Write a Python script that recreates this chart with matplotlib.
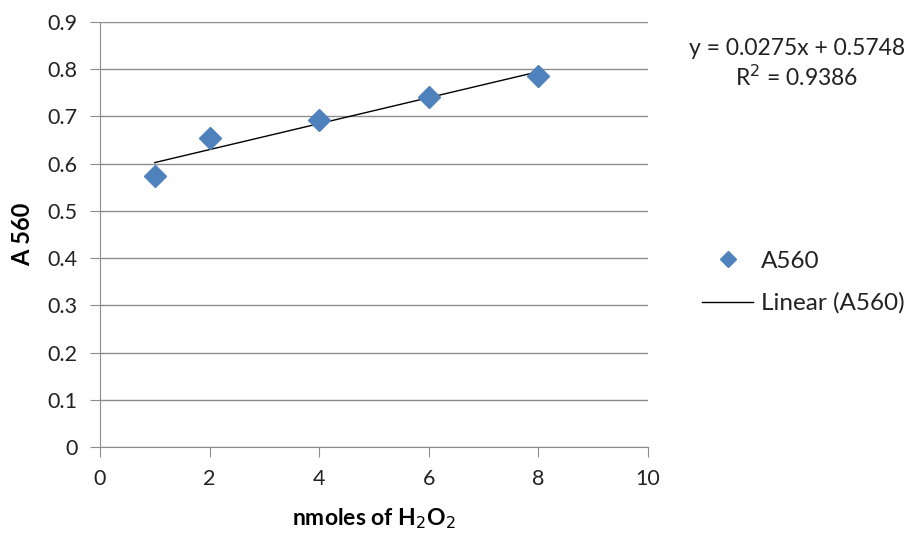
import matplotlib
matplotlib.use("Agg")
import matplotlib.pyplot as plt

# data
nmoles = [1, 2, 4, 6, 8]
a560 = [0.574, 0.654, 0.692, 0.741, 0.785]
slope, intercept, r2 = 0.0275, 0.5748, 0.9386
x_ticks = [0, 2, 4, 6, 8, 10]
y_ticks = [0, 0.1, 0.2, 0.3, 0.4, 0.5, 0.6, 0.7, 0.8, 0.9]

plt.rcParams["font.family"] = ["Lato", "DejaVu Sans"]
GRID = "#8c8c8c"
BLUE = "#4F81BD"
TXT = "#222222"

fig = plt.figure(figsize=(9.12, 5.35), dpi=100)
ax = fig.add_axes([0.1096, 0.1645, 0.601, 0.7944])

ax.plot(nmoles, a560, "D", color=BLUE, ms=11, label="A560", zorder=3)
fx = [nmoles[0], nmoles[-1]]
ax.plot(fx, [slope * v + intercept for v in fx], "-", color="black", lw=1,
        label="Linear (A560)", zorder=2)

ax.set_xlim(0, 10); ax.set_ylim(0, 0.9)
ax.set_xticks(x_ticks); ax.set_yticks(y_ticks)
ax.set_yticklabels(["0" if v == 0 else f"{v:g}" for v in y_ticks])
ax.grid(axis="y", color=GRID, lw=1)
ax.set_axisbelow(True)
for s in ("top", "right"):
    ax.spines[s].set_visible(False)
for s in ("left", "bottom"):
    ax.spines[s].set_color(GRID)
ax.tick_params(axis="both", direction="out", length=7, color=GRID,
               labelsize=15.5, labelcolor=TXT)
ax.tick_params(axis="y", pad=9)
ax.tick_params(axis="x", pad=9)
ax.set_xlabel("nmoles of H$_2$O$_2$", fontsize=16.5, fontweight="bold", labelpad=12)
ax.set_ylabel("A 560", fontsize=17, fontweight="bold", labelpad=10)

fig.text(0.874, 0.880, f"y = {slope}x + {intercept}\nR$^2$ = {r2}", ha="center",
         va="center", fontsize=16.5, linespacing=1.25, color=TXT)
ax.legend(loc="center left", bbox_to_anchor=(0.770, 0.472),
          bbox_transform=fig.transFigure, frameon=False, borderpad=0,
          borderaxespad=0, fontsize=17.5, markerscale=0.75, handlelength=2.1,
          labelspacing=0.85, handletextpad=0.3, labelcolor=TXT)

fig.savefig("out.png", dpi=100)
